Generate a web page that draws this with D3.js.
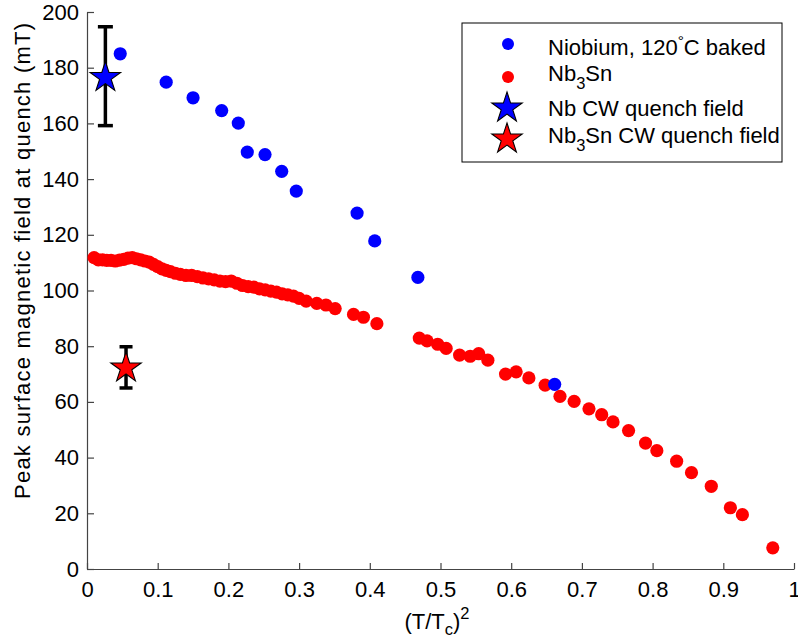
<!DOCTYPE html>
<html>
<head>
<meta charset="utf-8">
<script src="https://cdn.jsdelivr.net/npm/d3@7"></script>
<style>
  html, body { margin: 0; padding: 0; background: #fff; }
  svg { display: block; }
  text { font-family: "Liberation Sans", Arial, Helvetica, sans-serif; fill: #000; }
</style>
</head>
<body>
<svg id="chart" width="798" height="643"></svg>
<script>
// ---- data ----
const niobiumX = [0.047, 0.112, 0.150, 0.1905, 0.214, 0.2267, 0.2518, 0.2754, 0.296, 0.382, 0.407, 0.468, 0.6615];
const niobiumY = [185.0, 174.8, 169.2, 164.6, 160.1, 149.7, 148.8, 142.8, 135.7, 127.8, 117.8, 104.7, 66.3];

const nb3snX = [0.010, 0.016, 0.022, 0.028, 0.034, 0.040, 0.046, 0.052, 0.058, 0.064, 0.070, 0.076, 0.082, 0.088, 0.094,
  0.100, 0.106, 0.112, 0.118, 0.125, 0.132, 0.140, 0.148, 0.156, 0.164, 0.172, 0.180, 0.188, 0.196, 0.204,
  0.212, 0.220, 0.228, 0.236, 0.244, 0.252, 0.260, 0.268, 0.276, 0.284, 0.292, 0.300, 0.310, 0.325, 0.338,
  0.351, 0.377, 0.391, 0.410, 0.470, 0.481, 0.496, 0.508, 0.527, 0.542, 0.554, 0.567, 0.592, 0.607, 0.625,
  0.648, 0.669, 0.689, 0.710, 0.728, 0.744, 0.766, 0.790, 0.806, 0.834, 0.855, 0.883, 0.910, 0.927, 0.970];
const nb3snY = [111.8, 111.0, 111.0, 110.8, 110.8, 110.6, 110.9, 111.2, 111.6, 111.8, 111.4, 111.0, 110.6, 110.2, 109.4,
  108.6, 107.8, 107.2, 106.8, 106.2, 105.8, 105.4, 105.4, 105.0, 104.5, 104.2, 103.8, 103.4, 103.2, 103.4,
  102.6, 101.8, 101.4, 101.2, 100.6, 100.2, 99.8, 99.4, 98.8, 98.4, 98.0, 97.2, 96.2, 95.4, 94.8,
  93.5, 91.4, 90.4, 88.1, 82.9, 81.9, 80.7, 79.2, 76.8, 76.4, 77.3, 75.0, 70.0, 70.8, 68.6,
  66.0, 62.0, 60.2, 57.5, 55.4, 52.8, 49.7, 45.2, 42.5, 38.7, 34.6, 29.7, 22.0, 19.5, 7.6];

// CW quench fields
const cwNames = ["Nb CW quench field", "Nb3Sn CW quench field"];
const cwX = [0.026, 0.0552];
const cwY = [176.5, 72.2];
const cwLow = [159.2, 65.0];
const cwHigh = [194.7, 79.8];

const xTicks = [0, 0.1, 0.2, 0.3, 0.4, 0.5, 0.6, 0.7, 0.8, 0.9, 1];
const yTicks = [0, 20, 40, 60, 80, 100, 120, 140, 160, 180, 200];

// ---- setup ----
const svg = d3.select("#chart");
const FS = 22;
const x = d3.scaleLinear().domain([0, 1]).range([87, 794]);
const y = d3.scaleLinear().domain([0, 200]).range([569, 12]);
const blue = "#0000ff", red = "#ff0000";
const axisColor = "#444";

// axes
const xAxis = d3.axisBottom(x).tickValues(xTicks).tickSizeInner(-6).tickSizeOuter(0).tickPadding(12)
  .tickFormat(d => d3.format("")(d));
const yAxis = d3.axisLeft(y).tickValues(yTicks).tickSizeInner(-7).tickSizeOuter(0).tickPadding(8);

const gx = svg.append("g").attr("transform", `translate(0,${y(0)})`).call(xAxis);
const gy = svg.append("g").attr("transform", `translate(${x(0)},0)`).call(yAxis);
[gx, gy].forEach(g => {
  g.select(".domain").attr("stroke", axisColor).attr("stroke-width", 1.2);
  g.selectAll(".tick line").attr("stroke", axisColor).attr("stroke-width", 1.2);
  g.selectAll(".tick text").attr("font-size", FS).attr("font-family", "Liberation Sans, Arial, sans-serif").attr("fill", "#000");
});

// axis labels
const xl = svg.append("text").attr("x", 437).attr("y", 629).attr("text-anchor", "middle").attr("font-size", FS);
xl.append("tspan").text("(T/T");
xl.append("tspan").text("c").attr("font-size", FS * 0.75).attr("dy", 6);
xl.append("tspan").text(")").attr("dy", -6);
xl.append("tspan").text("2").attr("font-size", FS * 0.75).attr("dy", -10);

svg.append("text")
  .attr("transform", `translate(30,261) rotate(-90)`)
  .attr("text-anchor", "middle").attr("font-size", FS)
  .attr("textLength", 476).attr("lengthAdjust", "spacing")
  .text("Peak surface magnetic field at quench (mT)");

// ---- marks ----
const R = 6.6;
svg.append("g").selectAll("circle").data(d3.range(nb3snX.length)).join("circle")
  .attr("cx", i => x(nb3snX[i])).attr("cy", i => y(nb3snY[i])).attr("r", R).attr("fill", red);
svg.append("g").selectAll("circle").data(d3.range(niobiumX.length)).join("circle")
  .attr("cx", i => x(niobiumX[i])).attr("cy", i => y(niobiumY[i])).attr("r", R).attr("fill", blue);

// error bars
const eb = svg.append("g").attr("stroke", "#000").attr("stroke-width", 3.5);
const capW = [7.5, 6.5];
d3.range(cwX.length).forEach(i => {
  const cx = x(cwX[i]);
  eb.append("line").attr("x1", cx).attr("x2", cx).attr("y1", y(cwLow[i])).attr("y2", y(cwHigh[i]));
  eb.append("line").attr("x1", cx - capW[i]).attr("x2", cx + capW[i]).attr("y1", y(cwLow[i])).attr("y2", y(cwLow[i]));
  eb.append("line").attr("x1", cx - capW[i]).attr("x2", cx + capW[i]).attr("y1", y(cwHigh[i])).attr("y2", y(cwHigh[i]));
});

const starR = 16;
const starPath = d3.symbol().type(d3.symbolStar).size(starR * starR / 0.8908130915292852)();
const starColors = [blue, red];
svg.append("g").selectAll("path").data(d3.range(cwX.length)).join("path")
  .attr("d", starPath)
  .attr("transform", i => `translate(${x(cwX[i])},${y(cwY[i])})`)
  .attr("fill", i => starColors[i]).attr("stroke", "#000").attr("stroke-width", 1.1);

// ---- legend ----
const lg = svg.append("g");
lg.append("rect").attr("x", 462).attr("y", 23).attr("width", 320).attr("height", 139)
  .attr("fill", "#fff").attr("stroke", "#000").attr("stroke-width", 1);
lg.append("circle").attr("cx", 508).attr("cy", 44).attr("r", 6).attr("fill", blue);
lg.append("circle").attr("cx", 508).attr("cy", 77).attr("r", 6).attr("fill", red);
lg.append("path").attr("d", starPath).attr("transform", "translate(507,108)").attr("fill", blue).attr("stroke", "#000").attr("stroke-width", 1.1);
lg.append("path").attr("d", starPath).attr("transform", "translate(507,139)").attr("fill", red).attr("stroke", "#000").attr("stroke-width", 1.1);

const tx = 548;
const t1 = lg.append("text").attr("x", tx).attr("y", 55).attr("font-size", FS);
t1.append("tspan").text("Niobium, 120");
t1.append("tspan").text("°").attr("font-size", FS * 0.7).attr("dy", -9);
t1.append("tspan").text("C baked").attr("dy", 9);

const t2 = lg.append("text").attr("x", tx).attr("y", 81).attr("font-size", FS);
t2.append("tspan").text("Nb");
t2.append("tspan").text("3").attr("font-size", FS * 0.75).attr("dy", 8);
t2.append("tspan").text("Sn").attr("dy", -8);

lg.append("text").attr("x", tx).attr("y", 115.5).attr("font-size", FS).text("Nb CW quench field");

const t4 = lg.append("text").attr("x", tx).attr("y", 142.5).attr("font-size", FS);
t4.append("tspan").text("Nb");
t4.append("tspan").text("3").attr("font-size", FS * 0.75).attr("dy", 8);
t4.append("tspan").text("Sn CW quench field").attr("dy", -8);
</script>
</body>
</html>
